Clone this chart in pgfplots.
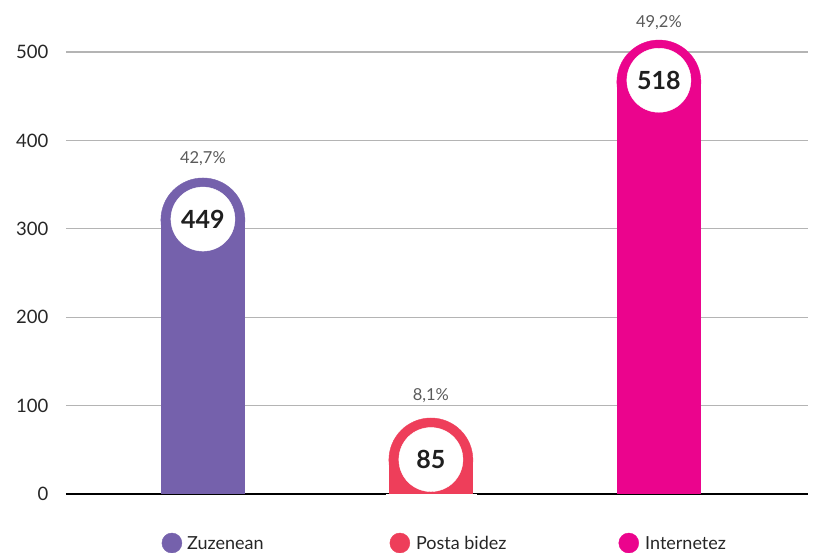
\documentclass[border=0pt]{standalone}
\usepackage{pgfplots}
\usepackage{pgfplotstable}
\pgfplotsset{compat=1.18}
\usepackage{fontspec}
\setmainfont{Lato}
\definecolor{cpurple}{HTML}{7561AC}
\definecolor{cred}{HTML}{EE3E5A}
\definecolor{cmag}{HTML}{EB048D}
\definecolor{gridgray}{HTML}{B4B4B4}
\definecolor{pctgray}{HTML}{5A5A5A}

% bar body stops one radius below the top; the round cap and the white disc sit there
\pgfplotstableread{
x  body  disc  label
0  310   311   449
1  38.5  39    85
2  466   468   518
}\bars

\begin{document}
\begin{tikzpicture}
\begin{axis}[
  scale only axis,
  width=742pt, height=442pt,
  xmin=-0.601, xmax=2.654,
  ymin=0, ymax=500,
  clip=false,
  axis lines=left,
  y axis line style={draw=none},
  x axis line style={line width=2.6pt, -},
  xtick=\empty,
  ytick={0,100,...,500},
  major tick length=0pt,
  ymajorgrids,
  grid style={gridgray, line width=1.2pt},
  yticklabel style={font=\fontsize{18.5}{20}\selectfont, text=black!85, xshift=-14pt},
  /pgf/number format/assume math mode=true,
  ybar, bar width=84pt, bar shift=0pt,
]
\addplot[draw=none, fill=cpurple] coordinates {(0,310)};
\addplot[draw=none, fill=cred] coordinates {(1,38.5)};
\addplot[draw=none, fill=cmag] coordinates {(2,466)};

% rounded caps
\addplot[only marks, mark=*, mark size=42pt, cpurple, mark options={draw=none}] coordinates {(0,310)};
\addplot[only marks, mark=*, mark size=42pt, cred, mark options={draw=none}] coordinates {(1,38.5)};
\addplot[only marks, mark=*, mark size=42pt, cmag, mark options={draw=none}] coordinates {(2,466)};
% hide the part of the short cap that falls below zero
\addplot[only marks, mark=square*, mark size=6pt, white,
  mark options={draw=none, xscale=7.5}] coordinates {(1,-7)};

% white discs with the counts
\addplot[only marks, mark=*, mark size=32pt, white, mark options={draw=none},
  point meta=explicit symbolic, nodes near coords,
  nodes near coords style={anchor=center, text=black!88,
    font=\fontsize{25}{28}\selectfont\bfseries}]
  table[x=x, y=disc, meta=label] {\bars};

\node[font=\fontsize{16.5}{18}\selectfont, text=pctgray] at (axis cs:0,379) {42,7\%};
\node[font=\fontsize{16.5}{18}\selectfont, text=pctgray] at (axis cs:1,111) {8,1\%};
\node[font=\fontsize{16.5}{18}\selectfont, text=pctgray] at (axis cs:2,533) {49,2\%};

% legend
\addplot[only marks, mark=*, mark size=10pt, cpurple, mark options={draw=none}] coordinates {(-0.136,-55.4)};
\addplot[only marks, mark=*, mark size=10pt, cred, mark options={draw=none}] coordinates {(0.864,-55.4)};
\addplot[only marks, mark=*, mark size=10pt, cmag, mark options={draw=none}] coordinates {(1.868,-55.4)};
\node[anchor=west, inner sep=0pt, font=\fontsize{18}{20}\selectfont, text=black!85] at (axis cs:-0.070,-55.4) {Zuzenean};
\node[anchor=west, inner sep=0pt, font=\fontsize{18}{20}\selectfont, text=black!85] at (axis cs:0.934,-55.4) {Posta bidez};
\node[anchor=west, inner sep=0pt, font=\fontsize{18}{20}\selectfont, text=black!85] at (axis cs:1.939,-55.4) {Internetez};

\coordinate (BL) at (axis cs:-0.890,-65.6);
\coordinate (TR) at (axis cs:2.676,558.8);
\end{axis}
\pgfresetboundingbox
\path[use as bounding box] (BL) rectangle (TR);
\end{tikzpicture}
\end{document}
